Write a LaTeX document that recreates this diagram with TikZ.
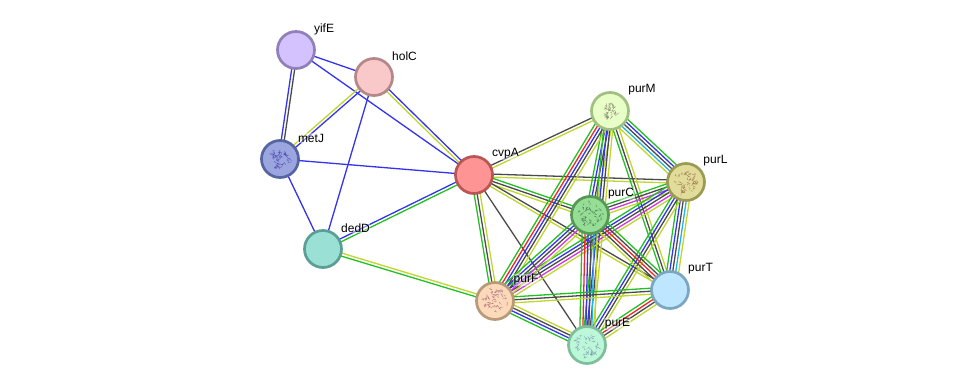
\documentclass[tikz,border=0pt]{standalone}
\usepackage{fontspec}
\setmainfont{Liberation Sans}
\usetikzlibrary{calc}
\pgfdeclarelayer{edges}
\pgfsetlayers{edges,main}
\definecolor{eg}{HTML}{22C022}
\definecolor{er}{HTML}{F52525}
\definecolor{eb}{HTML}{3333F0}
\definecolor{ek}{HTML}{4A4A4A}
\definecolor{ey}{HTML}{BFD62E}
\definecolor{ec}{HTML}{22B4E0}
\definecolor{em}{HTML}{D535E0}
% bubble fill and rim for each protein
\newcommand{\palette}[3]{\definecolor{f#1}{HTML}{#2}\definecolor{d#1}{HTML}{#3}}
\palette{yifE}{D4C2FF}{9080B8}
\palette{holC}{F9C9C9}{B48888}
\palette{metJ}{9BA6E0}{5565A0}
\palette{dedD}{9BE0D5}{5A9E96}
\palette{cvpA}{FF9494}{B85555}
\palette{purM}{E8FFC8}{A0C080}
\palette{purL}{E2DC9A}{9A9A55}
\palette{purC}{96DD96}{559955}
\palette{purT}{BEE6FF}{7BA5C0}
\palette{purF}{FBD9B9}{B89A7A}
\palette{purE}{BDF7D9}{7FBE9B}
\definecolor{smetJ}{HTML}{4A3FA8}
\definecolor{spurM}{HTML}{8A8A70}
\definecolor{spurL}{HTML}{96683F}
\definecolor{spurC}{HTML}{3F6F4F}
\definecolor{spurF}{HTML}{A8607A}
\definecolor{spurE}{HTML}{6F8FA8}
\tikzset{
  prot/.style={circle,draw=d#1,fill=f#1,line width=2.7pt,minimum size=37pt,inner sep=0pt},
  tag/.style={font=\fontsize{12}{14}\selectfont,fill=white,fill opacity=.4,text opacity=1,inner sep=.6pt},
  strand/.style={line width=1.3pt}
}
% parallel evidence lines between two proteins
\newcommand{\bundle}[3]{%
  \foreach \c [count=\n] in {#3} {\xdef\nlines{\n}}%
  \begin{pgfonlayer}{edges}
  \foreach \c [count=\i] in {#3} {
    \pgfmathsetmacro{\off}{(\i-(\nlines+1)/2)*3}
    \draw[strand,\c] ($(#1.center)!\off pt!90:(#2.center)$) -- ($(#2.center)!\off pt!-90:(#1.center)$);
  }
  \end{pgfonlayer}%
}
% short tangled ribbon strokes inside a protein bubble
\newcommand{\fold}[3]{%
  \pgfmathsetseed{#3}
  \foreach \k in {1,...,45} {
    \pgfmathsetmacro{\ang}{rnd*360}
    \pgfmathsetmacro{\rad}{sqrt(rnd)*#2/2}
    \pgfmathsetmacro{\ax}{\rad*cos(\ang)}
    \pgfmathsetmacro{\ay}{\rad*sin(\ang)}
    \pgfmathsetmacro{\bx}{\ax+(rnd-.5)*6}
    \pgfmathsetmacro{\by}{\ay+(rnd-.5)*6}
    \pgfmathsetmacro{\cx}{\ax+(rnd-.5)*5}
    \pgfmathsetmacro{\cy}{\ay+(rnd-.5)*5}
    \draw[s#1,line width=.35pt,opacity=.75,line cap=round] ($(#1.center)+(\ax,\ay)$) .. controls ($(#1.center)+(\bx,\by)$) .. ($(#1.center)+(\cx,\cy)$);
  }
}
\begin{document}
\begin{tikzpicture}[x=1pt,y=-1pt]
\useasboundingbox (0,0) rectangle (975,390);
% proteins
\node[prot=yifE] (yifE) at (296,50) {};
\node[prot=holC] (holC) at (374,77) {};
\node[prot=metJ] (metJ) at (280,159) {};
\node[prot=dedD] (dedD) at (323,249) {};
\node[prot=cvpA] (cvpA) at (474,175) {};
\node[prot=purM] (purM) at (610,111) {};
\node[prot=purL] (purL) at (686,182) {};
\node[prot=purC] (purC) at (590,215) {};
\node[prot=purT] (purT) at (670,290) {};
\node[prot=purF] (purF) at (495,301) {};
\node[prot=purE] (purE) at (587,345) {};
% structure sketches
\fold{metJ}{21}{11}
\fold{purM}{15}{12}
\fold{purL}{23}{13}
\fold{purC}{25}{14}
\fold{purF}{24}{15}
\fold{purE}{24}{16}
% interactions
\bundle{yifE}{holC}{eb}
\bundle{yifE}{metJ}{eb,ek}
\bundle{yifE}{cvpA}{eb}
\bundle{holC}{metJ}{ey,eb}
\bundle{holC}{dedD}{eb}
\bundle{holC}{cvpA}{ey,eb}
\bundle{metJ}{cvpA}{eb}
\bundle{metJ}{dedD}{eb}
\bundle{dedD}{cvpA}{eg,eb}
\bundle{dedD}{purF}{eg,ey}
\bundle{cvpA}{purM}{ey,ek}
\bundle{cvpA}{purL}{ey,ek}
\bundle{cvpA}{purC}{ey,ek,eg}
\bundle{cvpA}{purT}{ey,ek}
\bundle{cvpA}{purF}{eg,ek,ey}
\bundle{cvpA}{purE}{ek}
\bundle{purM}{purL}{ey,ec,ek,eb,eg}
\bundle{purM}{purC}{eg,eb,ek,ey}
\bundle{purM}{purT}{eg,ek,ey}
\bundle{purM}{purF}{eg,er,eb,ek,ey}
\bundle{purM}{purE}{eg,eb,ek,ey}
\bundle{purL}{purC}{eg,ek,em,ey}
\bundle{purL}{purT}{eg,eb,ek,ec,ey}
\bundle{purL}{purF}{eg,eb,ek,em,ey}
\bundle{purL}{purE}{eg,eb,ek,ey}
\bundle{purC}{purT}{ey,ek,er,ek,eg}
\bundle{purC}{purF}{eg,eb,ek,em,ey}
\bundle{purC}{purE}{eg,er,eb,ek,ec,ey}
\bundle{purF}{purT}{ey,ek,eg}
\bundle{purF}{purE}{eg,eb,ek,ey}
\bundle{purT}{purE}{eg,er,ek,ey}
% labels
\node[tag] (lyifE) at (324,29) {yifE};
\node[tag] (lholC) at (404.5,56) {holC};
\node[tag] (lmetJ) at (311,138) {metJ};
\node[tag] (ldedD) at (355.5,228) {dedD};
\node[tag] (lcvpA) at (505.5,154) {cvpA};
\node[tag] (lpurM) at (642,90) {purM};
\node[tag] (lpurL) at (715.5,161) {purL};
\node[tag] (lpurC) at (621,194) {purC};
\node[tag] (lpurT) at (700.5,269) {purT};
\node[tag] (lpurF) at (526,280) {purF};
\node[tag] (lpurE) at (617.5,324) {purE};
\end{tikzpicture}
\end{document}
